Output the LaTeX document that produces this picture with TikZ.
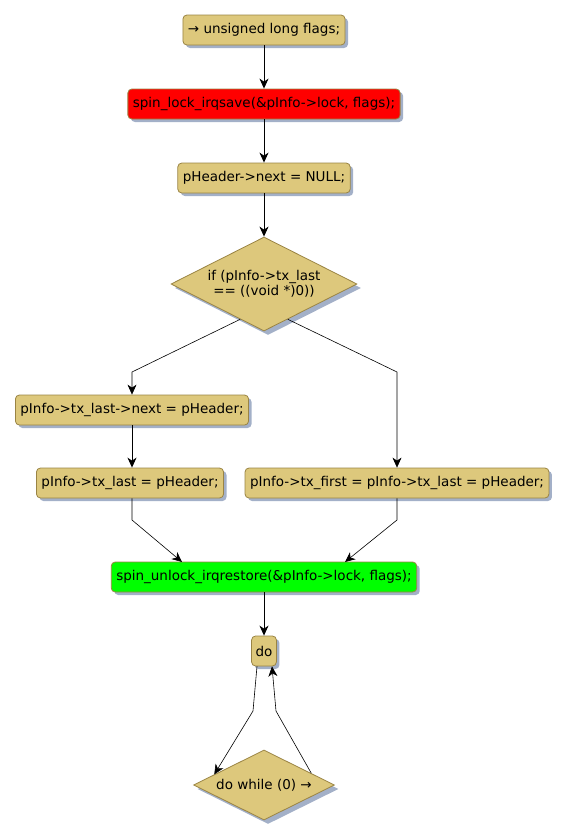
\documentclass[tikz,border=0pt]{standalone}
\usepackage{fontspec}
\setmainfont{DejaVu Sans}
\usepackage{tikz}
\usetikzlibrary{
    arrows.meta,
    shapes.geometric,
    shadows
}
\definecolor{actfill}{HTML}{DDC87C}
\definecolor{actline}{HTML}{9A8444}
\definecolor{shadowc}{HTML}{A3B0C8}

\begin{document}
\begin{tikzpicture}[x=1pt,y=-1pt,
    font=\fontsize{13.5}{15}\selectfont,
    box/.style={draw=actline, fill=actfill, rounded corners=4pt, minimum height=30pt,
        inner xsep=5pt, line width=0.8pt,
        drop shadow={shadow xshift=3pt, shadow yshift=-3pt, fill=shadowc, opacity=1}},
    cond/.style={diamond, draw=actline, fill=actfill, inner sep=0pt,
        line width=0.8pt,
        drop shadow={shadow xshift=4pt, shadow yshift=-4pt, fill=shadowc, opacity=1}},
    condtext/.style={align=center, inner sep=0pt},
    flow/.style={-{Stealth[length=10pt,width=9pt,inset=3pt]}, line width=0.9pt}
]
\useasboundingbox (0,0) rectangle (566,839);

% Straight part
\node[box] (flags) at (264,30) {→ unsigned long flags;};
\node[box, fill=red] (lock) at (264,104) {spin\_lock\_irqsave(\&pInfo->lock, flags);};
\node[box] (next) at (264,178) {pHeader->next = NULL;};

% Test on tx_last
\node[cond, minimum width=186pt, minimum height=94pt] (iflast) at (264,284) {};
\node[condtext] (iflasttext) at (iflast) {if (pInfo->tx\_last\\== ((void *)0))};

% Branches
\node[box] (setnext) at (132,410) {pInfo->tx\_last->next = pHeader;};
\node[box] (setlast) at (130,483) {pInfo->tx\_last = pHeader;};
\node[box] (setboth) at (397,483) {pInfo->tx\_first = pInfo->tx\_last = pHeader;};

% Unlock
\node[box, fill=green] (unlock) at (264,577) {spin\_unlock\_irqrestore(\&pInfo->lock, flags);};

% Loop
\node[box, inner xsep=4pt] (do) at (264,651) {do};
\node[cond, minimum width=141pt, minimum height=70pt] (while) at (264,785) {};
\node[condtext] (whiletext) at (while) {do while (0) →};

\draw[flow] (flags) -- (lock);
\draw[flow] (lock) -- (next);
\draw[flow] (next) -- (iflast);
\draw[flow, line width=0.6pt] (iflast.236) -- (132,372) -- (setnext);
\draw[flow, line width=0.6pt] (iflast.-56) -- (397,372) -- (setboth);
\draw[flow] (setnext) -- (setnext |- setlast.north);
\draw[flow, line width=0.6pt] (setnext |- setlast.south) -- (132,520) -- (182,562);
\draw[flow, line width=0.6pt] (setboth.south) -- (397,520) -- (345,562);
\draw[flow] (unlock) -- (do);
\draw[flow, line width=0.6pt] ([xshift=-7pt]do.south) -- (253,711) -- (while.168);
\draw[flow, line width=0.6pt] (while.14) -- (276,711) -- ([xshift=8pt]do.south);

\end{tikzpicture}
\end{document}
